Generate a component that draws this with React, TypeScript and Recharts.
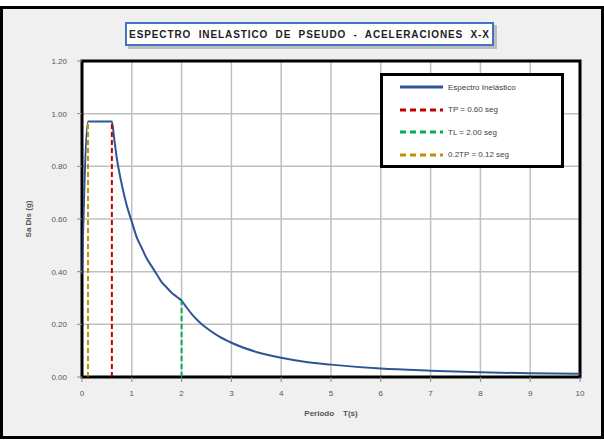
import React from "react";
import { LineChart, Line, XAxis, YAxis, CartesianGrid, ReferenceArea } from "recharts";

// espectro de pseudo-aceleraciones
const periodT = [0, 0.12, 0.6, 0.65, 0.7, 0.8, 0.9, 1.0, 1.1, 1.2, 1.3, 1.4, 1.5, 1.6, 1.7, 1.8, 1.9, 2.0, 2.1, 2.2, 2.35, 2.5, 2.75, 3.0, 3.5, 4.0, 4.5, 5.0, 6.0, 7.0, 8.0, 9.0, 10.0];
const saValues = [0.39, 0.97, 0.97, 0.9, 0.83, 0.73, 0.65, 0.59, 0.53, 0.49, 0.45, 0.42, 0.39, 0.36, 0.34, 0.32, 0.305, 0.29, 0.264, 0.24, 0.21, 0.186, 0.154, 0.13, 0.095, 0.073, 0.057, 0.047, 0.032, 0.024, 0.018, 0.014, 0.012];

// lineas verticales de referencia
const tpT = [0.6, 0.6];
const tpSa = [0, 0.97];
const tlT = [2.0, 2.0];
const tlSa = [0, 0.29];
const tp02T = [0.12, 0.12];
const tp02Sa = [0, 0.97];

const xTicks = [0, 1, 2, 3, 4, 5, 6, 7, 8, 9, 10];
const yTicks = [0, 0.2, 0.4, 0.6, 0.8, 1.0, 1.2];

const TITLE = "ESPECTRO INELASTICO DE PSEUDO - ACELERACIONES X-X";
const legendItems = [
  { name: "Espectro Inelástico", color: "#2F5597", dashed: false },
  { name: "TP = 0.60 seg", color: "#C00000", dashed: true },
  { name: "TL = 2.00 seg", color: "#00B050", dashed: true },
  { name: "0.2TP = 0.12 seg", color: "#BF9000", dashed: true },
];

const toPoints = (ts: number[], vs: number[]) => ts.map((t, i) => ({ t, sa: vs[i] }));

const FONT = "'Liberation Sans', Arial, sans-serif";

const LegendBox = () => (
  <div
    style={{
      position: "absolute",
      left: 380,
      top: 73,
      width: 184,
      height: 95,
      boxSizing: "border-box",
      border: "3px solid #000",
      background: "#fff",
      paddingTop: 0,
      fontFamily: FONT,
    }}
  >
    {legendItems.map((it) => (
      <div key={it.name} style={{ display: "flex", alignItems: "center", height: 22.5 }}>
        <svg width={48} height={6} style={{ marginLeft: 15 }}>
          <line
            x1={2}
            y1={3}
            x2={45}
            y2={3}
            stroke={it.color}
            strokeWidth={3}
            strokeDasharray={it.dashed ? "6 4" : undefined}
          />
        </svg>
        <span style={{ fontSize: 8, color: "#404040", marginLeft: 2 }}>{it.name}</span>
      </div>
    ))}
  </div>
);

export default function App() {
  const curve = toPoints(periodT, saValues);
  return (
    <div style={{ position: "fixed", left: 0, top: 0, width: 604, height: 441, background: "#fff" }}>
      <div
        style={{
          position: "absolute",
          left: 0,
          top: 6,
          width: 604,
          height: 433,
          boxSizing: "border-box",
          border: "3px solid #000",
          background: "#f0f0f0",
        }}
      />
      <div style={{ position: "absolute", left: 0, top: 0 }}>
        <LineChart width={604} height={441} margin={{ top: 61, right: 24, bottom: 34, left: 32 }}>
          <CartesianGrid stroke="#c0c0c0" strokeWidth={1.5} fill="#fff" />
          <XAxis
            dataKey="t"
            type="number"
            domain={[0, 10]}
            ticks={xTicks}
            height={30}
            stroke="#000"
            tickLine={{ stroke: "#888" }}
            tickSize={5}
            tickMargin={8}
            tick={{ fontSize: 8, fill: "#555", fontFamily: FONT }}
            label={{ value: "Periodo\u00a0\u00a0\u00a0\u00a0T(s)", position: "insideBottom", offset: -9, style: { fontSize: 8, fontWeight: "bold", fill: "#555", fontFamily: FONT } }}
            allowDuplicatedCategory={false}
          />
          <YAxis
            dataKey="sa"
            type="number"
            domain={[0, 1.2]}
            ticks={yTicks}
            width={50}
            stroke="#000"
            tickLine={{ stroke: "#888" }}
            tickSize={5}
            tickMargin={10}
            tickFormatter={(v: number) => v.toFixed(2)}
            tick={{ fontSize: 8, fill: "#555", fontFamily: FONT }}
            label={{ value: "Sa Dis (g)", angle: -90, position: "insideLeft", offset: -4, style: { fontSize: 8, fontWeight: "bold", fill: "#555", fontFamily: FONT, textAnchor: "middle" } }}
          />
          <ReferenceArea x1={0} x2={10} y1={0} y2={1.2} fill="none" stroke="#000" strokeWidth={3} ifOverflow="visible" />
          <Line data={curve} dataKey="sa" type="monotone" stroke="#2F5597" strokeWidth={2} dot={false} isAnimationActive={false} />
          <Line data={toPoints(tpT, tpSa)} dataKey="sa" stroke="#C00000" strokeWidth={2} strokeDasharray="5 3" dot={false} isAnimationActive={false} />
          <Line data={toPoints(tlT, tlSa)} dataKey="sa" stroke="#00B050" strokeWidth={2} strokeDasharray="5 3" dot={false} isAnimationActive={false} />
          <Line data={toPoints(tp02T, tp02Sa)} dataKey="sa" stroke="#BF9000" strokeWidth={2} strokeDasharray="5 3" dot={false} isAnimationActive={false} />
        </LineChart>
      </div>
      <LegendBox />
      <div
        style={{
          position: "absolute",
          left: 125,
          top: 22,
          width: 369,
          height: 24,
          boxSizing: "border-box",
          border: "2px solid #4472C4",
          background: "#fff",
          boxShadow: "3px 3px 0 #bdbdbd",
          fontFamily: FONT,
          fontSize: 10,
          fontWeight: "bold",
          color: "#222",
          display: "flex",
          alignItems: "center",
          justifyContent: "center",
          whiteSpace: "pre",
          letterSpacing: 0.9,
        }}
      >
        {TITLE.split(" ").join("  ")}
      </div>
    </div>
  );
}
